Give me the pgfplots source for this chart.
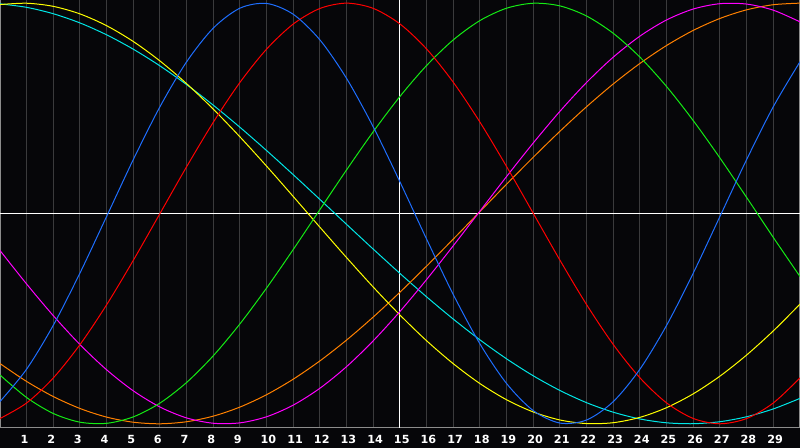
\documentclass[border=0pt]{standalone}
\usepackage{pgfplots}
\pgfplotsset{compat=1.18}
\usepackage{fontspec}
\newfontfamily\lblfont{DejaVu Sans}

\definecolor{bg}{RGB}{6,6,9}
\definecolor{gridc}{RGB}{58,58,60}
\definecolor{framec}{RGB}{140,140,140}
\definecolor{cphys}{RGB}{30,110,255}
\definecolor{cemo}{RGB}{255,0,0}
\definecolor{cint}{RGB}{20,235,20}
\definecolor{cintu}{RGB}{255,0,255}
\definecolor{caes}{RGB}{255,255,0}
\definecolor{cawa}{RGB}{255,128,0}
\definecolor{cspi}{RGB}{0,230,230}

\begin{document}
\begin{tikzpicture}
% black page behind everything
\fill[bg] (0,-10pt) rectangle (400pt,214pt);
\useasboundingbox (0,-10pt) rectangle (400pt,214pt);
\begin{axis}[
    at={(0,0)}, anchor=south west,
    width=400pt, height=214pt, scale only axis,
    xmin=0, xmax=30,
    ymin=-1.02, ymax=1.015,
    axis background/.style={fill=bg},
    axis line style={draw=framec, line width=0.5pt},
    xtick={1,...,29},
    ytick=\empty,
    major tick length=0pt,
    xmajorgrids,
    major grid style={draw=gridc, line width=0.5pt},
    /pgf/number format/assume math mode=true,
    xticklabel style={font=\lblfont\bfseries\fontsize{5.6}{5.6}\selectfont, text=white,
        anchor=north west, inner sep=0pt, xshift=-3.2pt, yshift=-3.3pt},
    extra x ticks={15},
    extra x tick labels={},
    extra x tick style={major grid style={draw=white, line width=0.5pt}},
    extra y ticks={0},
    extra y tick labels={},
    extra y tick style={ymajorgrids=true, major grid style={draw=white, line width=0.5pt}},
    every axis plot/.append style={line width=0.5pt, smooth, mark=none},
]

% spiritual (53 days)
\addplot[cspi] coordinates {
(0,0.9967) (1,0.9800) (2,0.9496) (3,0.9059) (4,0.8493) (5,0.7809)
(6,0.7016) (7,0.6124) (8,0.5146) (9,0.4096) (10,0.2988) (11,0.1839)
(12,0.0663) (13,-0.0522) (14,-0.1699) (15,-0.2853) (16,-0.3967) (17,-0.5024)
(18,-0.6011) (19,-0.6914) (20,-0.7720) (21,-0.8418) (22,-0.8998) (23,-0.9450)
(24,-0.9771) (25,-0.9954) (26,-0.9997) (27,-0.9901) (28,-0.9665) (29,-0.9293)
(30,-0.8792)};

% awareness (48 days)
\addplot[cawa] coordinates {
(0,-0.7136) (1,-0.7989) (2,-0.8706) (3,-0.9273) (4,-0.9683) (5,-0.9926)
(6,-1.0000) (7,-0.9902) (8,-0.9635) (9,-0.9204) (10,-0.8614) (11,-0.7876)
(12,-0.7006) (13,-0.6015) (14,-0.4920) (15,-0.3742) (16,-0.2500) (17,-0.1214)
(18,0.0092) (19,0.1396) (20,0.2677) (21,0.3911) (22,0.5079) (23,0.6161)
(24,0.7136) (25,0.7989) (26,0.8706) (27,0.9273) (28,0.9683) (29,0.9926)
(30,1.0000)};

% aesthetic (43 days)
\addplot[caes] coordinates {
(0,0.9932) (1,0.9996) (2,0.9847) (3,0.9488) (4,0.8927) (5,0.8175)
(6,0.7250) (7,0.6169) (8,0.4958) (9,0.3640) (10,0.2246) (11,0.0802)
(12,-0.0658) (13,-0.2103) (14,-0.3504) (15,-0.4830) (16,-0.6055) (17,-0.7145)
(18,-0.8090) (19,-0.8860) (20,-0.9440) (21,-0.9820) (22,-0.9990) (23,-0.9948)
(24,-0.9693) (25,-0.9232) (26,-0.8573) (27,-0.7733) (28,-0.6729) (29,-0.5582)
(30,-0.4310)};

% intuitive (38 days)
\addplot[cintu] coordinates {
(0,-0.1761) (1,-0.3356) (2,-0.4861) (3,-0.6234) (4,-0.7435) (5,-0.8434)
(6,-0.9204) (7,-0.9722) (8,-0.9975) (9,-0.9956) (10,-0.9665) (11,-0.9110)
(12,-0.8307) (13,-0.7279) (14,-0.6050) (15,-0.4658) (16,-0.3137) (17,-0.1531)
(18,0.0115) (19,0.1761) (20,0.3356) (21,0.4861) (22,0.6234) (23,0.7435)
(24,0.8434) (25,0.9204) (26,0.9722) (27,0.9975) (28,0.9956) (29,0.9665)
(30,0.9110)};

% intellectual (33 days)
\addplot[cint] coordinates {
(0,-0.7681) (1,-0.8753) (2,-0.9511) (3,-0.9924) (4,-0.9978) (5,-0.9671)
(6,-0.9015) (7,-0.8033) (8,-0.6763) (9,-0.5246) (10,-0.3539) (11,-0.1706)
(12,0.0190) (13,0.2079) (14,0.3893) (15,0.5567) (16,0.7038) (17,0.8255)
(18,0.9174) (19,0.9761) (20,0.9996) (21,0.9869) (22,0.9386) (23,0.8563)
(24,0.7431) (25,0.6030) (26,0.4411) (27,0.2634) (28,0.0760) (29,-0.1141)
(30,-0.2999)};

% emotional (28 days)
\addplot[cemo] coordinates {
(0,-0.9749) (1,-0.9010) (2,-0.7818) (3,-0.6235) (4,-0.4339) (5,-0.2225)
(6,0.0000) (7,0.2225) (8,0.4339) (9,0.6235) (10,0.7818) (11,0.9010)
(12,0.9749) (13,1.0000) (14,0.9749) (15,0.9010) (16,0.7818) (17,0.6235)
(18,0.4339) (19,0.2225) (20,0.0000) (21,-0.2225) (22,-0.4339) (23,-0.6235)
(24,-0.7818) (25,-0.9010) (26,-0.9749) (27,-1.0000) (28,-0.9749) (29,-0.9010)
(30,-0.7818)};

% physical (23 days)
\addplot[cphys] coordinates {
(0,-0.8942) (1,-0.7399) (2,-0.5313) (3,-0.2829) (4,-0.0136) (5,0.2566)
(6,0.5078) (7,0.7215) (8,0.8815) (9,0.9762) (10,0.9985) (11,0.9468)
(12,0.8248) (13,0.6414) (14,0.4109) (15,0.1497) (16,-0.1226) (17,-0.3859)
(18,-0.6204) (19,-0.8090) (20,-0.9376) (21,-0.9966) (22,-0.9818) (23,-0.8942)
(24,-0.7399) (25,-0.5313) (26,-0.2829) (27,-0.0136) (28,0.2566) (29,0.5078)
(30,0.7215)};

\end{axis}
\end{tikzpicture}
\end{document}
